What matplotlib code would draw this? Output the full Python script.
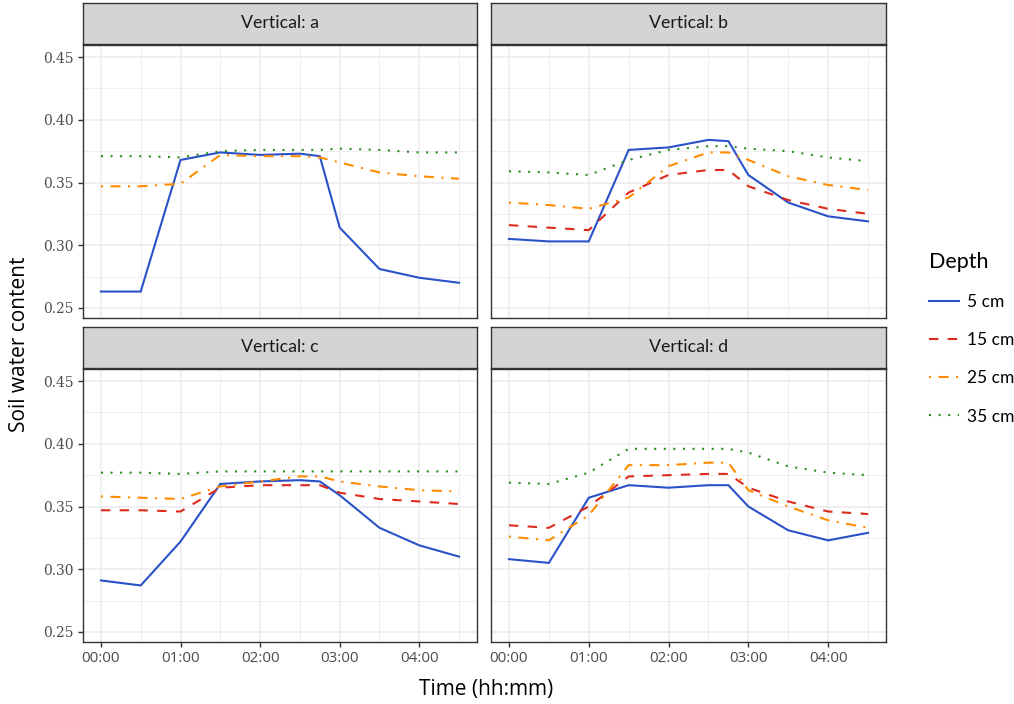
import matplotlib
matplotlib.use("Agg")
import matplotlib.pyplot as plt
from matplotlib.ticker import FixedLocator, FuncFormatter

plt.rcParams["font.family"] = ["DejaVu Serif"]

# ---- data ----
times_h = [0, 0.5, 1, 1.5, 2, 2.5, 2.75, 3, 3.5, 4, 4.5]
depths = ["5 cm", "15 cm", "25 cm", "35 cm"]
verticals = ["a", "b", "c", "d"]

a_5 = [0.263, 0.263, 0.368, 0.374, 0.372, 0.373, 0.371, 0.314, 0.281, 0.274, 0.270]
a_15 = None
a_25 = [0.347, 0.347, 0.349, 0.372, 0.371, 0.371, 0.370, 0.366, 0.358, 0.355, 0.353]
a_35 = [0.371, 0.371, 0.370, 0.375, 0.376, 0.376, 0.376, 0.377, 0.376, 0.374, 0.374]

b_5 = [0.305, 0.303, 0.303, 0.376, 0.378, 0.384, 0.383, 0.356, 0.334, 0.323, 0.319]
b_15 = [0.316, 0.314, 0.312, 0.342, 0.356, 0.360, 0.360, 0.347, 0.336, 0.329, 0.325]
b_25 = [0.334, 0.332, 0.329, 0.338, 0.363, 0.374, 0.374, 0.368, 0.355, 0.348, 0.344]
b_35 = [0.359, 0.358, 0.356, 0.368, 0.376, 0.379, 0.379, 0.377, 0.375, 0.370, 0.367]

c_5 = [0.291, 0.287, 0.322, 0.368, 0.370, 0.371, 0.370, 0.359, 0.333, 0.319, 0.310]
c_15 = [0.347, 0.347, 0.346, 0.365, 0.367, 0.367, 0.367, 0.361, 0.356, 0.354, 0.352]
c_25 = [0.358, 0.357, 0.356, 0.366, 0.370, 0.374, 0.374, 0.370, 0.366, 0.363, 0.362]
c_35 = [0.377, 0.377, 0.376, 0.378, 0.378, 0.378, 0.378, 0.378, 0.378, 0.378, 0.378]

d_5 = [0.308, 0.305, 0.357, 0.367, 0.365, 0.367, 0.367, 0.350, 0.331, 0.323, 0.329]
d_15 = [0.335, 0.333, 0.350, 0.374, 0.375, 0.376, 0.376, 0.365, 0.354, 0.346, 0.344]
d_25 = [0.326, 0.323, 0.343, 0.383, 0.383, 0.385, 0.385, 0.363, 0.350, 0.339, 0.333]
d_35 = [0.369, 0.368, 0.377, 0.396, 0.396, 0.396, 0.396, 0.393, 0.382, 0.377, 0.375]

panels = {
    "a": [a_5, a_15, a_25, a_35],
    "b": [b_5, b_15, b_25, b_35],
    "c": [c_5, c_15, c_25, c_35],
    "d": [d_5, d_15, d_25, d_35],
}

x_ticks = [0, 1, 2, 3, 4]
y_ticks = [0.25, 0.30, 0.35, 0.40, 0.45]

# ---- styles ----
colors = ["#2a52c8", "#dc2a1c", "#ff8c00", "#2a8f22"]
dashes = [None, (4.5, 4.5), (1.0, 3.6, 4.8, 3.6), (1.0, 3.6)]
LW = 1.5

W, H = 1014, 704
fig = plt.figure(figsize=(W / 100, H / 100), dpi=100)

wide = ["Open Sans", "Lato", "DejaVu Sans"]
sans = ["Lato", "DejaVu Sans"]

boxes = {
    "a": (83, 45, 477, 318),
    "b": (491, 45, 886, 318),
    "c": (83, 369, 477, 642),
    "d": (491, 369, 886, 642),
}
strip_h = 41


def fmt_time(v, pos):
    mins = int(round(v * 60))
    return f"{mins // 60:02d}:{mins % 60:02d}"


handles = []
for key in verticals:
    x0, y0, x1, y1 = boxes[key]
    ax = fig.add_axes([x0 / W, 1 - y1 / H, (x1 - x0) / W, (y1 - y0) / H])
    ax.set_xlim(-0.225, 4.725)
    ax.set_ylim(0.2419, 0.4597)
    ax.set_facecolor("white")
    ax.xaxis.set_major_locator(FixedLocator(x_ticks))
    ax.xaxis.set_minor_locator(FixedLocator([0.5, 1.5, 2.5, 3.5, 4.5]))
    ax.yaxis.set_major_locator(FixedLocator(y_ticks))
    ax.yaxis.set_minor_locator(FixedLocator([0.275, 0.325, 0.375, 0.425]))
    ax.grid(which="major", color="#EBEBEB", lw=1.1)
    ax.grid(which="minor", color="#EBEBEB", lw=0.55)
    ax.set_axisbelow(True)
    for s in ax.spines.values():
        s.set_color("#333333")
        s.set_linewidth(1.0)
    ax.tick_params(which="major", length=3.5, width=1.0, color="#333333",
                   labelcolor="#4D4D4D")
    ax.tick_params(which="minor", length=0)
    ax.xaxis.set_major_formatter(FuncFormatter(fmt_time))
    ax.yaxis.set_major_formatter(FuncFormatter(lambda v, p: f"{v:.2f}"))
    if key in ("a", "b"):
        ax.tick_params(axis="x", labelbottom=False, length=0)
    else:
        ax.tick_params(axis="x", labelsize=11, pad=3)
    if key in ("b", "d"):
        ax.tick_params(axis="y", labelleft=False, length=0)
    else:
        ax.tick_params(axis="y", labelsize=10, pad=3)

    for i, series in enumerate(panels[key]):
        if series is None:
            continue
        ln, = ax.plot(times_h, series, color=colors[i], lw=LW, label=depths[i],
                      solid_joinstyle="miter")
        if dashes[i] is not None:
            ln.set_dashes(dashes[i])
        if key == "b":
            handles.append(ln)

    for tk in ax.xaxis.get_major_ticks():
        tk.label1.set_family(wide)

    # strip
    sax = fig.add_axes([x0 / W, 1 - (y0 - 1) / H, (x1 - x0) / W, strip_h / H])
    sax.set_facecolor("#D4D4D4")
    sax.set_xticks([])
    sax.set_yticks([])
    for s in sax.spines.values():
        s.set_color("#333333")
        s.set_linewidth(1.0)
    sax.text(0.5, 0.5, f"Vertical: {key}", ha="center", va="center",
             fontsize=12.8, color="#1A1A1A", family=sans, transform=sax.transAxes)

fig.text(20 / W, 1 - 344 / H, "Soil water content", rotation=90, ha="center",
         va="center", fontsize=15, family=wide, color="black")
fig.text(486 / W, 1 - 689 / H, "Time (hh:mm)", ha="center", va="center",
         fontsize=15, family=wide, color="black")

leg = fig.legend(handles=handles, labels=depths, loc="upper left",
                 bbox_to_anchor=(913 / W, 1 - 236 / H), frameon=False,
                 title="Depth", fontsize=12.5, title_fontsize=15.5,
                 handlelength=1.75, handletextpad=0.45, labelspacing=1.28,
                 alignment="left")
for t in leg.get_texts():
    t.set_family(sans)
leg.get_title().set_family(sans)

fig.savefig("out.png", dpi=100)
